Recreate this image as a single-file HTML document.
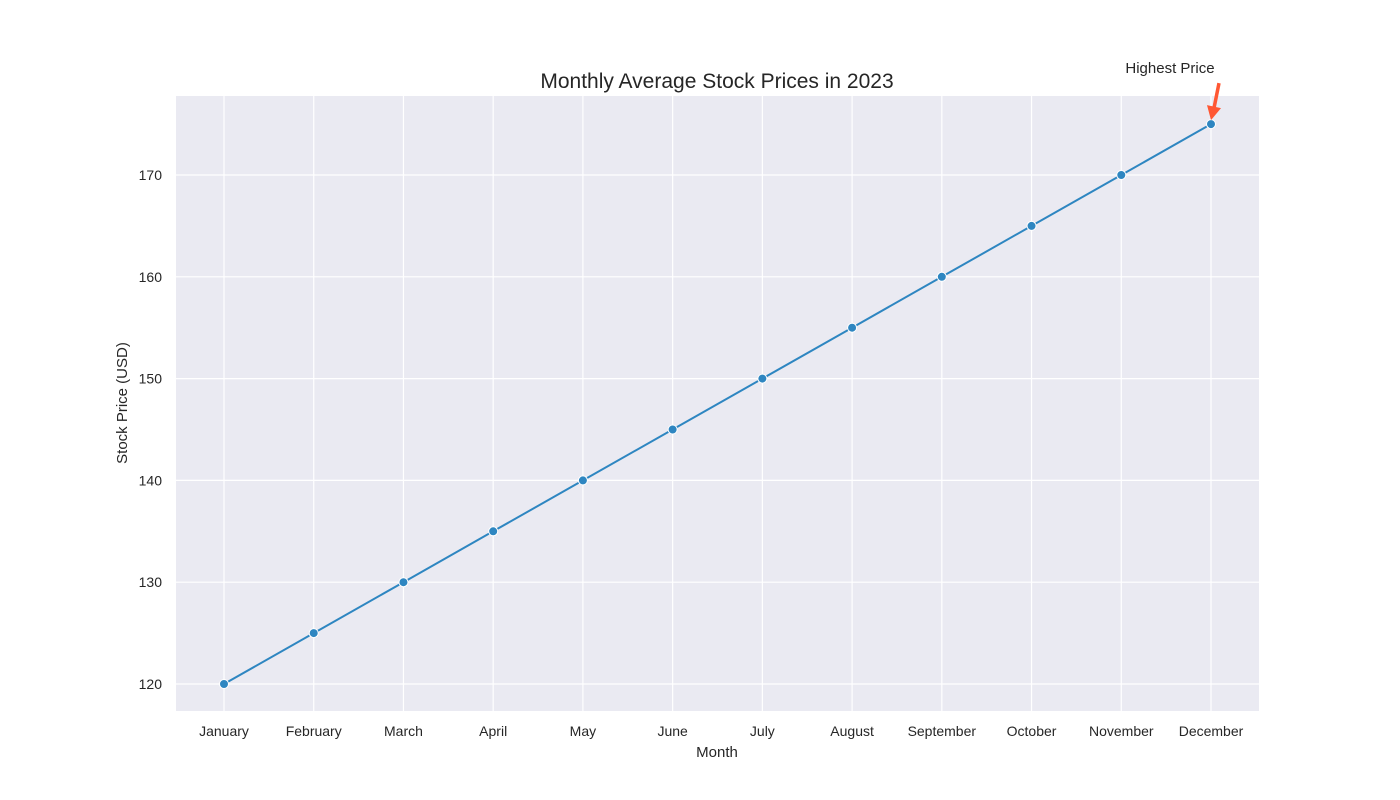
<!DOCTYPE html>
<html><head><meta charset="utf-8"><style>
html,body{margin:0;padding:0;background:#fff;}
svg{display:block;font-family:"Liberation Sans",sans-serif;}
</style></head><body>
<svg id="chart" width="1400" height="800"></svg>
<script>
const months = ["January","February","March","April","May","June","July","August","September","October","November","December"];
const prices = [120,125,130,135,140,145,150,155,160,165,170,175];
const yTicks = [120,130,140,150,160,170];
const NS = "http://www.w3.org/2000/svg";
const svg = document.getElementById('chart');
const L = 176, R = 1259, T = 96, B = 711;
const x0 = 224, dx = (1211 - 224) / 11;
function xs(i){ return x0 + i * dx; }
function ys(v){ return 684 - (v - 120) * (684 - 175) / 50; }
function el(tag, attrs, parent){
  const e = document.createElementNS(NS, tag);
  for (const k in attrs) e.setAttribute(k, attrs[k]);
  (parent || svg).appendChild(e);
  return e;
}
const bg = el('rect', {x:L, y:T, width:R-L, height:B-T, fill:'#eaeaf2'});


months.forEach((m, i) => {
  const g = el('line', {x1:xs(i), x2:xs(i), y1:T, y2:B, stroke:'#fff', 'stroke-width':1.2});
  
  
  const t = el('text', {x:xs(i), y:736, 'text-anchor':'middle', 'font-size':14, fill:'#262626'});
  t.textContent = m;
  
  
});
yTicks.forEach(v => {
  const g = el('line', {x1:L, x2:R, y1:ys(v), y2:ys(v), stroke:'#fff', 'stroke-width':1.2});
  
  
  const t = el('text', {x:162, y:ys(v)+5, 'text-anchor':'end', 'font-size':14, fill:'#262626'});
  t.textContent = v;
  
  
});
const line = el('polyline', {points: prices.map((p,i)=>xs(i)+','+ys(p)).join(' '), fill:'none', stroke:'#2e86c1', 'stroke-width':2});


prices.forEach((p, i) => {
  const c = el('circle', {cx:xs(i), cy:ys(p), r:4.5, fill:'#2e86c1', stroke:'#fff', 'stroke-width':1});
  
  
});
const title = el('text', {x:717, y:88, 'text-anchor':'middle', 'font-size':21, fill:'#262626'});
title.textContent = 'Monthly Average Stock Prices in 2023';


const xt = el('text', {x:717, y:757, 'text-anchor':'middle', 'font-size':15, fill:'#262626'});
xt.textContent = 'Month';


const yt = el('text', {x:0, y:0, transform:'translate(127,403) rotate(-90)', 'text-anchor':'middle', 'font-size':15, fill:'#262626'});
yt.textContent = 'Stock Price (USD)';


// annotation
const mi = prices.indexOf(Math.max(...prices));
const ax = xs(mi), ay = ys(prices[mi]);
const at = el('text', {x:ax-41, y:73, 'text-anchor':'middle', 'font-size':15, fill:'#262626'});
at.textContent = 'Highest Price';


const ag = el('g', {});


el('line', {x1:ax+8, y1:ay-41, x2:ax+3, y2:ay-16, stroke:'#ff5733', 'stroke-width':3.5}, ag);
el('polygon', {points:`${ax},${ay-4} ${ax-4},${ay-19} ${ax+10},${ay-16}`, fill:'#ff5733'}, ag);
</script>
</body></html>
